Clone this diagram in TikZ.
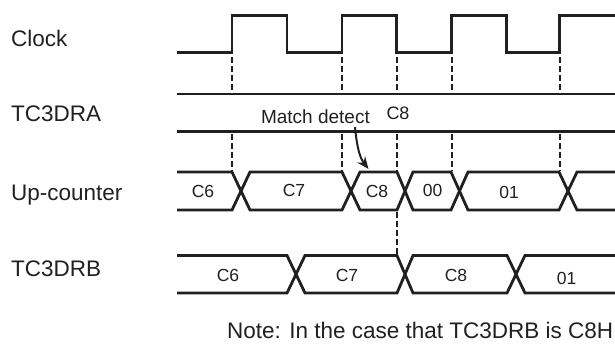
\documentclass[tikz,border=0pt]{standalone}
\usepackage{fontspec}
\setmainfont{Liberation Sans}
\usetikzlibrary{arrows.meta}
\definecolor{ink}{RGB}{35,31,32}
\begin{document}
\begin{tikzpicture}[x=1pt,y=-1pt,
  wave/.style={draw=ink,line width=2.8pt,line join=miter},
  guide/.style={draw=ink,line width=2pt,dash pattern=on 5.5pt off 3.5pt},
  lbl/.style={inner sep=0,anchor=base west,text=ink,font=\fontsize{22.5}{27}\selectfont},
  val/.style={inner sep=0,anchor=base,text=ink,font=\fontsize{17.5}{21}\selectfont},
  note/.style={inner sep=0,text=ink,font=\fontsize{19}{23}\selectfont},
]
\useasboundingbox (0,0) rectangle (615,343);

% signal names
\node[lbl] (nclk) at (11,46) {Clock};
\node[lbl] (nra)  at (11,121.5) {TC3DRA};
\node[lbl] (nup)  at (11,200) {Up-counter};
\node[lbl] (nrb)  at (11,276.5) {TC3DRB};

% clock
\draw[wave] (177,52.3) -- (232,52.3) -- (232,15.7) -- (287,15.7) -- (287,52.3)
  -- (342,52.3) -- (342,15.7) -- (396.5,15.7) -- (396.5,52.3)
  -- (451.5,52.3) -- (451.5,15.7) -- (506.5,15.7) -- (506.5,52.3)
  -- (559.5,52.3) -- (559.5,15.7) -- (615,15.7);

% TC3DRA
\draw[wave] (177,94) -- (615,94);
\draw[wave] (177,131.7) -- (615,131.7);
\node[note,anchor=base east] (nmatch) at (370,123.5) {Match detect};
\node[note,anchor=base,font=\fontsize{18}{22}\selectfont] (nrac8) at (398,119) {C8};

% up-counter
\draw[wave] (177,172) -- (232,172) -- (250,210) -- (342,210) -- (360,172) -- (397,172)
  -- (413,210) -- (451,210) -- (468,172) -- (559,172) -- (577,210) -- (615,210);
\draw[wave] (177,210) -- (232,210) -- (250,172) -- (342,172) -- (360,210) -- (397,210)
  -- (413,172) -- (451,172) -- (468,210) -- (559,210) -- (577,172) -- (615,172);
\node[val] (u1) at (203,197) {C6};
\node[val] (u2) at (294,196) {C7};
\node[val] (u3) at (377,197) {C8};
\node[val] (u4) at (432.5,196) {00};
\node[val] (u5) at (509,198) {01};

% TC3DRB
\draw[wave] (177,255.5) -- (287,255.5) -- (305,293) -- (397,293) -- (413,255.5)
  -- (507,255.5) -- (525,293) -- (615,293);
\draw[wave] (177,293) -- (287,293) -- (305,255.5) -- (397,255.5) -- (413,293)
  -- (507,293) -- (525,255.5) -- (615,255.5);
\node[val] (b1) at (228,281.5) {C6};
\node[val] (b2) at (347,281.5) {C7};
\node[val] (b3) at (456,281) {C8};
\node[val] (b4) at (566.7,284) {01};

% dashed guides
\foreach \gx in {232,342,396.5,451.5,559.5}{
  \draw[guide] (\gx,57) -- (\gx,93);
  \draw[guide] (\gx,134) -- (\gx,171);
}
\draw[guide] (396.5,212) -- (396.5,255);

% match detect arrow
\coordinate (mdtail) at (355,127);
\coordinate (mdtip) at (368.5,169);
\draw[draw=ink,line width=2pt,-{Stealth[length=12pt,width=10pt]}] (mdtail) .. controls (357,148) and (360,158) .. (mdtip);

% note
\node[lbl,font=\fontsize{22.5}{27}\selectfont] (nnote) at (227,338.5) {Note: In the case that TC3DRB is C8H};
\end{tikzpicture}
\end{document}
